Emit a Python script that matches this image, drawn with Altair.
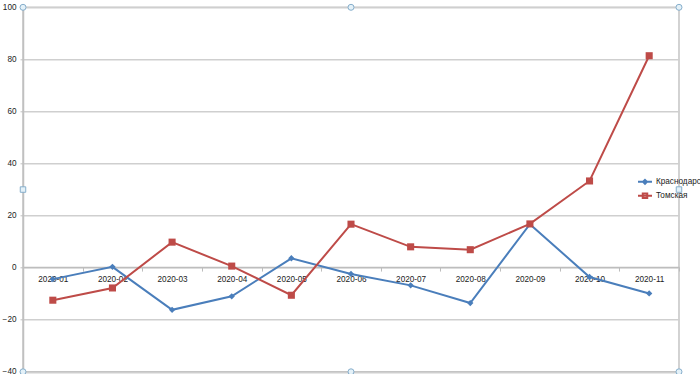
import altair as alt
import pandas as pd

months = ["2020-01", "2020-02", "2020-03", "2020-04", "2020-05", "2020-06",
          "2020-07", "2020-08", "2020-09", "2020-10", "2020-11"]
series_names = ["Краснодарская", "Томская"]
krasnodar = [-4.4, 0.3, -16.2, -11.0, 3.6, -2.4, -6.8, -13.6, 16.7, -3.6, -9.9]
tomsk = [-12.5, -7.8, 9.8, 0.6, -10.6, 16.7, 8.0, 6.9, 16.8, 33.3, 81.4]
y_ticks = [-40, -20, 0, 20, 40, 60, 80, 100]

# selection handles of the plot-area frame: left edge, middle, right edge
handle_left = {"month": ["2020-01", "2020-01", "2020-01"], "value": [100, 30, -40], "kind": ["circle", "square", "circle"]}
handle_mid = {"month": ["2020-06", "2020-06"], "value": [100, -40], "kind": ["circle", "circle"]}
handle_right = {"month": ["2020-11", "2020-11", "2020-11"], "value": [100, 30, -40], "kind": ["circle", "square", "circle"]}

rows = []
for name, vals in zip(series_names, [krasnodar, tomsk]):
    for m, v in zip(months, vals):
        rows.append({"month": m, "value": v, "series": name, "legend_series": name})
df = pd.DataFrame(rows)

blue = "#4A7EBB"
red = "#BE4B48"
grid_col = "#cfcfcf"
FONT = "Liberation Sans"
FS = 8.2

diamond_path = "M-1,0H1M0,-0.28L0.28,0L0,0.28L-0.28,0Z"
square_path = "M-1,0H1M-0.32,-0.32H0.32V0.32H-0.32Z"

color_enc = alt.Color("series:N", scale=alt.Scale(domain=series_names, range=[blue, red]), legend=None)

x_axis = alt.Axis(title=None, orient="bottom", offset=-104.7, labelAngle=0,
                  tickBand="extent", tickSize=4, tickColor="#bdbdbd",
                  domainColor="#bdbdbd", domainWidth=1.5, labelPadding=4,
                  labelFontSize=FS, labelFont=FONT, labelColor="#222222",
                  grid=False)
x_scale = alt.Scale(type="band", paddingInner=0, paddingOuter=0, domain=months)
x_enc = alt.X("month:N", sort=months, scale=x_scale, axis=x_axis)
y_enc = alt.Y("value:Q", scale=alt.Scale(domain=[-40, 100], nice=False, zero=False),
              axis=alt.Axis(title=None, values=y_ticks, grid=True, gridColor=grid_col,
                            gridWidth=1.5, tickSize=3, tickColor="#c0c0c0",
                            domainColor="#c0c0c0", domainWidth=1.5, labelPadding=4,
                            labelFontSize=FS, labelFont=FONT, labelColor="#222222"))

base = alt.Chart(df)
lines = base.mark_line(strokeWidth=2).encode(x=x_enc, y=y_enc, color=color_enc,
                                              detail="series:N")
points = base.mark_point(filled=True, opacity=1).encode(
    x=x_enc, y=y_enc, color=color_enc,
    shape=alt.Shape("series:N", scale=alt.Scale(domain=series_names, range=["diamond", "square"]), legend=None),
    size=alt.Size("series:N", scale=alt.Scale(domain=series_names, range=[40, 50]), legend=None),
)

legend = alt.Legend(
    title=None, orient="none", legendX=614, legendY=166.5,
    symbolSize=196, symbolStrokeWidth=2, symbolOpacity=1, labelFontSize=FS, labelFont=FONT,
    labelColor="#222222", labelOffset=3, rowPadding=0, padding=0, labelLimit=300,
)
legend_layer = base.mark_point(filled=False, opacity=0, size=196, strokeWidth=2).encode(
    x=x_enc, y=y_enc,
    color=alt.Color("legend_series:N", scale=alt.Scale(domain=series_names, range=[blue, red]), legend=legend),
    shape=alt.Shape("legend_series:N", scale=alt.Scale(domain=series_names, range=[diamond_path, square_path]), legend=legend),
)

handle_layers = []
for hd, bp in [(handle_left, 0), (handle_mid, 0.5), (handle_right, 1)]:
    hdf = pd.DataFrame(hd)
    hx = alt.X("month:N", sort=months, scale=x_scale, axis=x_axis, bandPosition=bp)
    for kind, sz in [("circle", 36), ("square", 30)]:
        sub = hdf[hdf["kind"] == kind]
        if len(sub) == 0:
            continue
        handle_layers.append(
            alt.Chart(sub).mark_point(shape=kind, size=sz, filled=True, fill="#e4f1f8",
                                      stroke="#86aecb", strokeWidth=1, opacity=1)
            .encode(x=hx, y=y_enc)
        )

chart = alt.layer(lines, points, legend_layer, *handle_layers).resolve_scale(
    shape="independent", color="independent"
).properties(
    width=656, height=364.5,
    autosize=alt.AutoSizeParams(type="none"),
    padding={"left": 23, "top": 7.3, "right": 21, "bottom": 2},
    background="white",
).configure_view(stroke="#c4c4c4", strokeWidth=1.5)

chart.save("out.html", embed_options={"renderer": "svg", "actions": False})
